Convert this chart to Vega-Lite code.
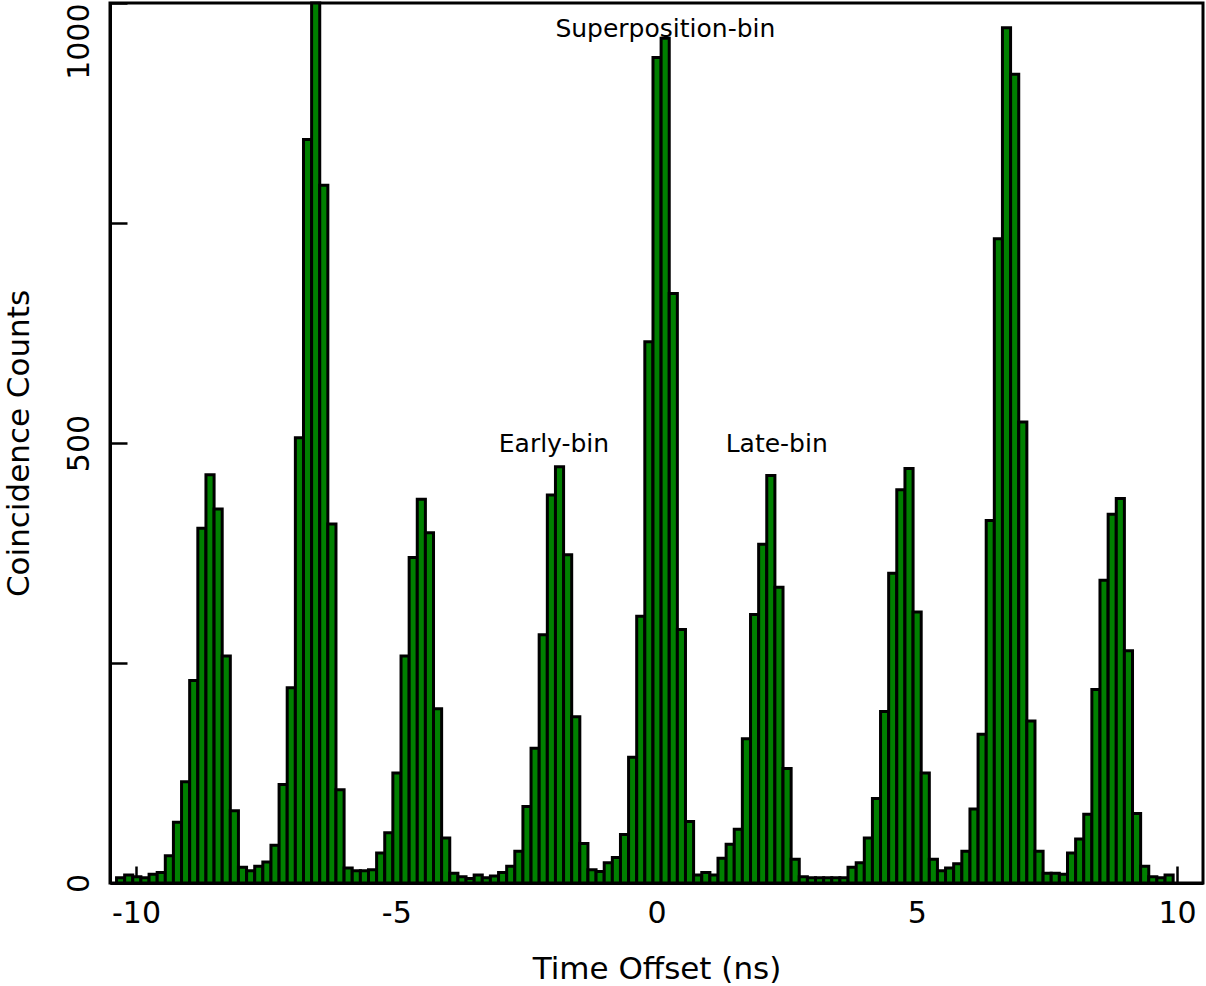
{
  "$schema": "https://vega.github.io/schema/vega-lite/v6.json",
  "width": 1093,
  "height": 880,
  "autosize": {"type": "none"},
  "padding": {"left": 110, "top": 3, "right": 3, "bottom": 103},
  "background": "white",
  "config": {
    "font": "DejaVu Sans",
    "view": {"stroke": "black", "strokeWidth": 3},
    "axis": {
      "domainColor": "black",
      "domainWidth": 3,
      "tickColor": "black",
      "tickWidth": 2.5,
      "tickSize": -17,
      "grid": false,
      "labelColor": "black",
      "labelFontSize": 30,
      "labelFont": "DejaVu Sans",
      "titleColor": "black",
      "titleFontSize": 31,
      "titleFont": "DejaVu Sans",
      "titleFontWeight": "normal"
    }
  },
  "datasets": {
    "histogram": [
      {"t": -10.384, "n": 6}, {"t": -10.228, "n": 9}, {"t": -10.072, "n": 7}, {"t": -9.916, "n": 6},
      {"t": -9.759, "n": 10}, {"t": -9.603, "n": 12}, {"t": -9.447, "n": 31}, {"t": -9.291, "n": 69},
      {"t": -9.135, "n": 115}, {"t": -8.979, "n": 230}, {"t": -8.822, "n": 403}, {"t": -8.666, "n": 464},
      {"t": -8.51, "n": 425}, {"t": -8.354, "n": 258}, {"t": -8.198, "n": 82}, {"t": -8.042, "n": 18},
      {"t": -7.885, "n": 14}, {"t": -7.729, "n": 19}, {"t": -7.573, "n": 24}, {"t": -7.417, "n": 43},
      {"t": -7.261, "n": 112}, {"t": -7.105, "n": 222}, {"t": -6.948, "n": 506}, {"t": -6.792, "n": 845},
      {"t": -6.636, "n": 1000}, {"t": -6.48, "n": 793}, {"t": -6.324, "n": 408}, {"t": -6.168, "n": 106},
      {"t": -6.012, "n": 17}, {"t": -5.855, "n": 14}, {"t": -5.699, "n": 14}, {"t": -5.543, "n": 15},
      {"t": -5.387, "n": 34}, {"t": -5.231, "n": 57}, {"t": -5.075, "n": 125}, {"t": -4.918, "n": 258},
      {"t": -4.762, "n": 370}, {"t": -4.606, "n": 436}, {"t": -4.45, "n": 398}, {"t": -4.294, "n": 198},
      {"t": -4.138, "n": 51}, {"t": -3.981, "n": 11}, {"t": -3.825, "n": 7}, {"t": -3.669, "n": 5},
      {"t": -3.513, "n": 9}, {"t": -3.357, "n": 6}, {"t": -3.201, "n": 8}, {"t": -3.044, "n": 12},
      {"t": -2.888, "n": 19}, {"t": -2.732, "n": 36}, {"t": -2.576, "n": 87}, {"t": -2.42, "n": 153},
      {"t": -2.264, "n": 282}, {"t": -2.107, "n": 441}, {"t": -1.951, "n": 473}, {"t": -1.795, "n": 373},
      {"t": -1.639, "n": 189}, {"t": -1.483, "n": 45}, {"t": -1.327, "n": 15}, {"t": -1.171, "n": 13},
      {"t": -1.014, "n": 23}, {"t": -0.858, "n": 29}, {"t": -0.702, "n": 55}, {"t": -0.546, "n": 143},
      {"t": -0.39, "n": 303}, {"t": -0.234, "n": 615}, {"t": -0.077, "n": 938}, {"t": 0.079, "n": 960},
      {"t": 0.235, "n": 670}, {"t": 0.391, "n": 288}, {"t": 0.547, "n": 70}, {"t": 0.703, "n": 9},
      {"t": 0.86, "n": 12}, {"t": 1.016, "n": 9}, {"t": 1.172, "n": 28}, {"t": 1.328, "n": 44},
      {"t": 1.484, "n": 61}, {"t": 1.64, "n": 164}, {"t": 1.797, "n": 305}, {"t": 1.953, "n": 385},
      {"t": 2.109, "n": 463}, {"t": 2.265, "n": 336}, {"t": 2.421, "n": 130}, {"t": 2.577, "n": 27},
      {"t": 2.733, "n": 7}, {"t": 2.89, "n": 6}, {"t": 3.046, "n": 6}, {"t": 3.202, "n": 6},
      {"t": 3.358, "n": 6}, {"t": 3.514, "n": 6}, {"t": 3.67, "n": 18}, {"t": 3.827, "n": 23},
      {"t": 3.983, "n": 51}, {"t": 4.139, "n": 96}, {"t": 4.295, "n": 195}, {"t": 4.451, "n": 352},
      {"t": 4.607, "n": 447}, {"t": 4.764, "n": 471}, {"t": 4.92, "n": 308}, {"t": 5.076, "n": 125},
      {"t": 5.232, "n": 27}, {"t": 5.388, "n": 14}, {"t": 5.544, "n": 17}, {"t": 5.7, "n": 22},
      {"t": 5.857, "n": 36}, {"t": 6.013, "n": 84}, {"t": 6.169, "n": 169}, {"t": 6.325, "n": 412},
      {"t": 6.481, "n": 732}, {"t": 6.637, "n": 972}, {"t": 6.794, "n": 919}, {"t": 6.95, "n": 524},
      {"t": 7.106, "n": 184}, {"t": 7.262, "n": 36}, {"t": 7.418, "n": 11}, {"t": 7.574, "n": 11},
      {"t": 7.731, "n": 10}, {"t": 7.887, "n": 34}, {"t": 8.043, "n": 50}, {"t": 8.199, "n": 78},
      {"t": 8.355, "n": 220}, {"t": 8.511, "n": 344}, {"t": 8.668, "n": 419}, {"t": 8.824, "n": 437},
      {"t": 8.98, "n": 264}, {"t": 9.136, "n": 79}, {"t": 9.292, "n": 19}, {"t": 9.448, "n": 7},
      {"t": 9.604, "n": 6}, {"t": 9.761, "n": 9}
    ],
    "labels": [
      {"t": 0.17, "n": 970, "name": "Superposition-bin"},
      {"t": -1.97, "n": 499, "name": "Early-bin"},
      {"t": 2.31, "n": 499, "name": "Late-bin"}
    ]
  },
  "layer": [
    {
      "data": {"name": "histogram"},
      "mark": {"type": "bar", "fill": "#008000", "stroke": "black", "strokeWidth": 3, "binSpacing": 0},
      "encoding": {
        "x": {
          "field": "t",
          "type": "quantitative",
          "bin": {"binned": true, "step": 0.15616},
          "scale": {"domain": [-10.5, 10.5], "nice": false, "zero": false},
          "axis": {
            "title": "Time Offset (ns)",
            "values": [-10, -5, 0, 5, 10],
            "labelExpr": "datum.value < 0 ? '-' + abs(datum.value) : '' + datum.value",
            "labelPadding": 32,
            "titleY": 95,
            "titleBaseline": "alphabetic"
          }
        },
        "y": {
          "field": "n",
          "type": "quantitative",
          "scale": {"domain": [0, 1000], "nice": false},
          "axis": {
            "title": "Coincidence Counts",
            "values": [0, 250, 500, 750, 1000],
            "labelExpr": "datum.value % 500 === 0 ? '' + datum.value : ''",
            "labelAngle": -90,
            "labelAlign": {"expr": "datum.value === 1000 ? 'right' : 'center'"},
            "labelBaseline": "bottom",
            "labelFlush": false,
            "labelPadding": 33,
            "titleX": -82,
            "titleBaseline": "alphabetic"
          }
        }
      }
    },
    {
      "data": {"name": "labels"},
      "mark": {"type": "text", "font": "DejaVu Sans", "fontSize": 25, "color": "black", "baseline": "middle", "align": "center"},
      "encoding": {
        "x": {"field": "t", "type": "quantitative"},
        "y": {"field": "n", "type": "quantitative"},
        "text": {"field": "name"}
      }
    }
  ]
}
